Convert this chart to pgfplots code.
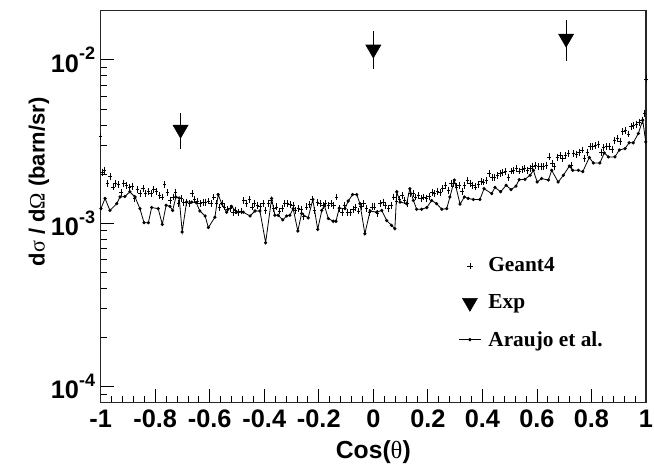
\documentclass[border=0pt]{standalone}
\usepackage{fontspec}
\setmainfont{Liberation Sans}
\newfontfamily\timesf{Liberation Serif}
\usepackage{pgfplots}
\pgfplotsset{compat=1.18}
\usepackage{pgfplotstable}

\pgfplotstableread{
x y
-0.995 2.05e-3
-0.985 2.11e-3
-0.975 1.75e-3
-0.965 1.94e-3
-0.955 1.67e-3
-0.945 1.75e-3
-0.935 1.72e-3
-0.925 1.55e-3
-0.915 1.76e-3
-0.905 1.71e-3
-0.895 1.65e-3
-0.885 1.69e-3
-0.875 1.42e-3
-0.865 1.61e-3
-0.855 1.53e-3
-0.845 1.63e-3
-0.835 1.53e-3
-0.825 1.57e-3
-0.815 1.52e-3
-0.805 1.61e-3
-0.795 1.57e-3
-0.785 1.48e-3
-0.775 1.45e-3
-0.765 1.72e-3
-0.755 1.55e-3
-0.745 1.38e-3
-0.735 1.45e-3
-0.725 1.55e-3
-0.715 1.32e-3
-0.705 1.42e-3
-0.695 1.35e-3
-0.685 1.35e-3
-0.675 1.33e-3
-0.665 1.52e-3
-0.655 1.40e-3
-0.645 1.37e-3
-0.635 1.32e-3
-0.625 1.35e-3
-0.615 1.35e-3
-0.605 1.37e-3
-0.595 1.33e-3
-0.585 1.45e-3
-0.575 1.32e-3
-0.565 1.25e-3
-0.555 1.32e-3
-0.545 1.26e-3
-0.535 1.21e-3
-0.525 1.23e-3
-0.515 1.16e-3
-0.505 1.20e-3
-0.495 1.17e-3
-0.485 1.19e-3
-0.475 1.38e-3
-0.465 1.32e-3
-0.455 1.40e-3
-0.445 1.26e-3
-0.435 1.32e-3
-0.425 1.29e-3
-0.415 1.27e-3
-0.405 1.32e-3
-0.395 1.20e-3
-0.385 1.33e-3
-0.375 1.38e-3
-0.365 1.23e-3
-0.355 1.26e-3
-0.345 1.19e-3
-0.335 1.23e-3
-0.325 1.32e-3
-0.315 1.33e-3
-0.305 1.30e-3
-0.295 1.29e-3
-0.285 1.20e-3
-0.275 1.23e-3
-0.265 1.21e-3
-0.255 1.10e-3
-0.245 1.26e-3
-0.235 1.31e-3
-0.225 1.40e-3
-0.215 1.20e-3
-0.205 1.35e-3
-0.195 1.33e-3
-0.185 1.29e-3
-0.175 1.32e-3
-0.165 1.29e-3
-0.155 1.32e-3
-0.145 1.29e-3
-0.135 1.45e-3
-0.125 1.23e-3
-0.115 1.17e-3
-0.105 1.29e-3
-0.095 1.17e-3
-0.085 1.17e-3
-0.075 1.21e-3
-0.065 1.25e-3
-0.055 1.19e-3
-0.045 1.27e-3
-0.035 1.32e-3
-0.025 1.23e-3
-0.015 1.16e-3
-0.005 1.26e-3
0.005 1.26e-3
0.015 1.15e-3
0.025 1.32e-3
0.035 1.35e-3
0.045 1.29e-3
0.055 1.23e-3
0.065 1.29e-3
0.075 1.45e-3
0.085 1.37e-3
0.095 1.40e-3
0.105 1.48e-3
0.115 1.38e-3
0.125 1.33e-3
0.135 1.52e-3
0.145 1.52e-3
0.155 1.45e-3
0.165 1.48e-3
0.175 1.42e-3
0.185 1.45e-3
0.195 1.42e-3
0.205 1.46e-3
0.215 1.55e-3
0.225 1.52e-3
0.235 1.57e-3
0.245 1.54e-3
0.255 1.63e-3
0.265 1.71e-3
0.275 1.59e-3
0.285 1.75e-3
0.295 1.75e-3
0.305 1.67e-3
0.315 1.71e-3
0.325 1.57e-3
0.335 1.71e-3
0.345 1.82e-3
0.355 1.76e-3
0.365 1.71e-3
0.375 1.67e-3
0.385 1.72e-3
0.395 1.80e-3
0.405 1.79e-3
0.415 1.84e-3
0.425 2.02e-3
0.435 1.91e-3
0.445 1.92e-3
0.455 1.97e-3
0.465 2.02e-3
0.475 2.04e-3
0.485 2.07e-3
0.495 1.92e-3
0.505 2.09e-3
0.515 2.11e-3
0.525 2.17e-3
0.535 2.09e-3
0.545 2.13e-3
0.555 2.17e-3
0.565 2.11e-3
0.575 2.17e-3
0.585 2.22e-3
0.595 2.27e-3
0.605 2.22e-3
0.615 2.24e-3
0.625 2.22e-3
0.635 2.27e-3
0.645 2.55e-3
0.655 2.32e-3
0.665 2.22e-3
0.675 2.53e-3
0.685 2.61e-3
0.695 2.50e-3
0.705 2.61e-3
0.715 2.68e-3
0.725 2.27e-3
0.735 2.68e-3
0.745 2.65e-3
0.755 2.73e-3
0.765 2.81e-3
0.775 2.50e-3
0.785 2.73e-3
0.795 2.94e-3
0.805 2.97e-3
0.815 3.01e-3
0.825 3.04e-3
0.835 2.73e-3
0.845 2.92e-3
0.855 2.94e-3
0.865 2.94e-3
0.875 2.84e-3
0.885 3.20e-3
0.895 3.31e-3
0.905 3.16e-3
0.915 3.63e-3
0.925 3.69e-3
0.935 3.52e-3
0.945 3.90e-3
0.955 3.99e-3
0.965 4.05e-3
0.975 4.15e-3
0.985 4.28e-3
0.995 4.72e-3
}\geant

\pgfplotstableread{
x y
-0.999 1.23e-3
-0.984 1.42e-3
-0.966 1.20e-3
-0.941 1.32e-3
-0.929 1.45e-3
-0.911 1.46e-3
-0.893 1.56e-3
-0.874 1.45e-3
-0.856 1.23e-3
-0.841 1.01e-3
-0.825 1.01e-3
-0.813 1.25e-3
-0.789 1.23e-3
-0.774 0.986e-3
-0.760 1.29e-3
-0.746 1.27e-3
-0.736 1.20e-3
-0.724 1.45e-3
-0.712 1.43e-3
-0.701 0.885e-3
-0.685 1.35e-3
-0.666 1.35e-3
-0.650 1.34e-3
-0.636 1.19e-3
-0.617 1.11e-3
-0.605 0.942e-3
-0.581 1.09e-3
-0.569 1.50e-3
-0.556 1.32e-3
-0.538 1.17e-3
-0.520 1.27e-3
-0.501 1.17e-3
-0.477 1.17e-3
-0.452 1.11e-3
-0.434 1.19e-3
-0.416 1.19e-3
-0.395 0.762e-3
-0.373 1.42e-3
-0.361 1.12e-3
-0.349 1.12e-3
-0.332 1.05e-3
-0.318 1.11e-3
-0.306 1.12e-3
-0.294 1.23e-3
-0.277 0.898e-3
-0.263 1.15e-3
-0.239 1.08e-3
-0.222 1.40e-3
-0.204 0.919e-3
-0.189 1.20e-3
-0.180 1.29e-3
-0.165 1.07e-3
-0.147 1.03e-3
-0.137 1.03e-3
-0.125 1.24e-3
-0.104 1.23e-3
-0.092 1.37e-3
-0.076 1.50e-3
-0.061 1.50e-3
-0.049 1.32e-3
-0.031 0.863e-3
-0.012 1.19e-3
0.012 1.17e-3
0.031 1.20e-3
0.049 1.04e-3
0.067 0.972e-3
0.079 0.927e-3
0.086 1.56e-3
0.098 1.35e-3
0.122 1.32e-3
0.134 1.63e-3
0.147 1.38e-3
0.159 1.22e-3
0.177 1.22e-3
0.196 1.25e-3
0.214 1.38e-3
0.232 1.32e-3
0.251 1.22e-3
0.269 1.23e-3
0.281 1.45e-3
0.297 1.84e-3
0.318 1.31e-3
0.334 1.45e-3
0.348 1.42e-3
0.367 1.40e-3
0.391 1.40e-3
0.406 1.63e-3
0.434 1.52e-3
0.446 1.66e-3
0.467 1.56e-3
0.487 1.71e-3
0.505 1.61e-3
0.523 1.69e-3
0.535 1.85e-3
0.556 1.86e-3
0.575 1.97e-3
0.587 2.11e-3
0.601 1.79e-3
0.617 1.88e-3
0.642 1.84e-3
0.654 2.11e-3
0.678 1.79e-3
0.697 1.97e-3
0.719 2.24e-3
0.731 2.11e-3
0.752 2.11e-3
0.768 2.07e-3
0.792 2.53e-3
0.807 2.34e-3
0.831 2.34e-3
0.847 2.70e-3
0.862 2.55e-3
0.886 2.55e-3
0.902 2.81e-3
0.923 2.87e-3
0.938 3.11e-3
0.953 3.11e-3
0.972 3.55e-3
0.988 4.28e-3
0.999 3.15e-3
}\araujo

\pgfplotstableread{
x y ep em
-0.707 3.75e-3 0.72e-3 0.74e-3
0 1.16e-2 0.26e-2 0.23e-2
0.707 1.352e-2 0.31e-2 0.305e-2
}\expdata

\begin{document}
\begin{tikzpicture}
\begin{axis}[
  scale only axis, width=409pt, height=294pt,
  xmin=-1, xmax=1, ymode=log, ymin=8e-5, ymax=2e-2,
  axis line style={line width=0.8pt, black!85},
  tick align=inside, tick pos=left,
  major tick length=10pt, minor tick length=5pt,
  every tick/.style={line width=0.6pt, black},
  xtick={-1,-0.8,-0.6,-0.4,-0.2,0,0.2,0.4,0.6,0.8,1},
  xticklabels={-1,-0.8,-0.6,-0.4,-0.2,0,0.2,0.4,0.6,0.8,1},
  minor x tick num=4,
  ytick={1e-4,1e-3,1e-2},
  yticklabels={10\raisebox{0.48em}{\fontsize{13.5}{13.5}\selectfont -4},10\raisebox{0.48em}{\fontsize{13.5}{13.5}\selectfont -3},10\raisebox{0.48em}{\fontsize{13.5}{13.5}\selectfont -2}},
  minor ytick={9e-5,2e-4,3e-4,4e-4,5e-4,6e-4,7e-4,8e-4,9e-4,2e-3,3e-3,4e-3,5e-3,6e-3,7e-3,8e-3,9e-3},
  ticklabel style={font=\fontsize{19}{19}\selectfont\bfseries},
  xticklabel style={inner sep=3pt, yshift=-2.5pt},
  yticklabel style={inner sep=4pt},
  xlabel={Cos({\timesf\mdseries θ})},
  ylabel={d{\timesf\mdseries σ} / d{\timesf\mdseries Ω} (barn/sr)},
  xlabel style={at={(axis description cs:0.5,-0.126)}, anchor=center, font=\fontsize{18.5}{18.5}\selectfont\bfseries},
  ylabel style={at={(axis description cs:-0.113,0.563)}, anchor=center, font=\fontsize{16.5}{16.5}\selectfont\bfseries},
  legend style={draw=none, fill=none, at={(rel axis cs:0.655,0.377)}, anchor=north west, inner sep=0pt, row sep=11.5pt,
    font={\timesf\bfseries\fontsize{16}{18}\selectfont},
    /tikz/every odd column/.append style={column sep=3pt}},
  legend cell align=left,
]
\addlegendimage{only marks, mark=+, mark size=2.5pt, black, line width=0.5pt}
\addlegendentry{Geant4}
\addlegendimage{only marks, mark=triangle*, mark size=6.5pt, mark options={rotate=180}, black}
\addlegendentry{Exp}
\addlegendimage{black, line width=0.6pt, mark=*, mark size=1pt}
\addlegendentry{Araujo et al.}

\addplot[forget plot, only marks, mark=+, mark size=2.6pt, mark options={xscale=0.5, line width=0.55pt}, black] table[x=x,y=y]{\geant};
\addplot[forget plot, only marks, mark=+, mark size=2.6pt, mark options={xscale=0.5, line width=0.55pt}, black] coordinates {(-1,3.4e-3) (1,7.65e-3)};
\addplot[forget plot, black, line width=0.6pt, mark=*, mark size=0.9pt] table[x=x,y=y]{\araujo};
\addplot[forget plot, only marks, mark=triangle*, mark size=6.5pt, mark options={rotate=180}, black,
  error bars/.cd, y dir=both, y explicit, error mark=-, error bar style={line width=0.7pt, black}, error mark options={black, line width=0.7pt, mark size=3pt}]
  table[x=x, y=y, y error plus=ep, y error minus=em]{\expdata};
\coordinate (axsw) at (rel axis cs:0,0);
\coordinate (axne) at (rel axis cs:1,1);
\end{axis}
\pgfresetboundingbox
\path[use as bounding box] ([xshift=-75.5pt,yshift=-54.2pt]axsw) rectangle ([xshift=6pt,yshift=8pt]axne);
\end{tikzpicture}
\end{document}
